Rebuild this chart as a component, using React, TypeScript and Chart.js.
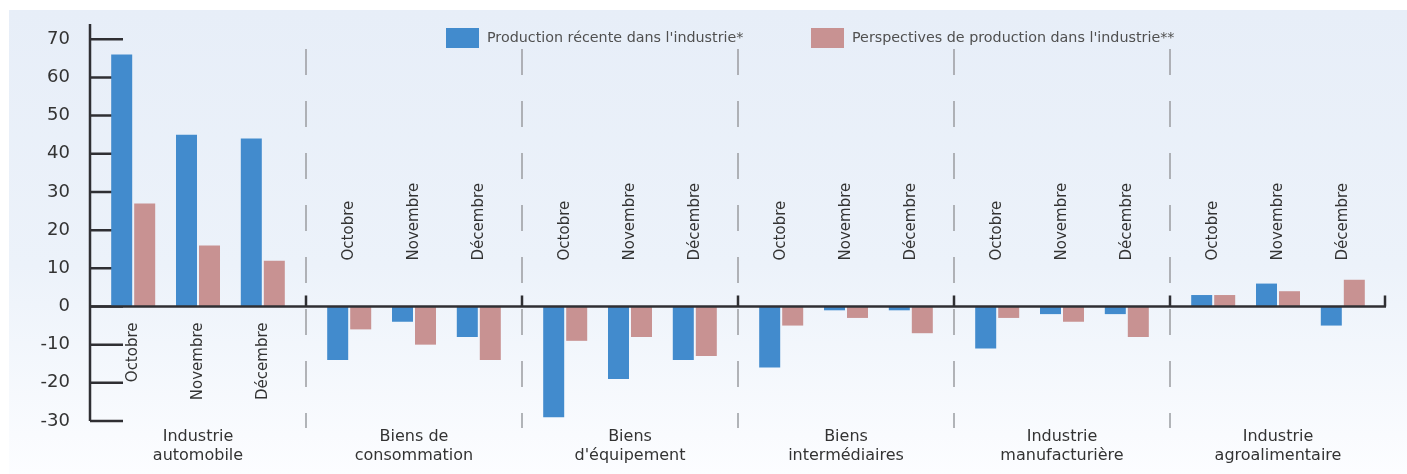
import { useEffect, useRef } from 'react';
import { Chart, registerables } from 'chart.js';

Chart.register(...registerables);

const FONT = '"DejaVu Sans", "Open Sans", sans-serif';

const months = ['Octobre', 'Novembre', 'Décembre'];
const sectors = [
  ['Industrie', 'automobile'],
  ['Biens de', 'consommation'],
  ['Biens', "d'équipement"],
  ['Biens', 'intermédiaires'],
  ['Industrie', 'manufacturière'],
  ['Industrie', 'agroalimentaire'],
];
const seriesNames = ["Production récente dans l'industrie*", "Perspectives de production dans l'industrie**"];
const recent = [66, 45, 44, -14, -4, -8, -29, -19, -14, -16, -1, -1, -11, -2, -2, 3, 6, -5];
const outlook = [27, 16, 12, -6, -10, -14, -9, -8, -13, -5, -3, -7, -3, -4, -8, 3, 4, 7];
const yTicks = [-30, -20, -10, 0, 10, 20, 30, 40, 50, 60, 70];
const yMin = -30;
const yMax = 74;

// layout: where each month group sits inside its sector (fraction of the sector width)
const groupOffsets = [0.2, 0.5, 0.8];

const BLUE = '#428bcd';
const PINK = '#c89292';
const AXIS = '#2f2f33';
const TEXT = '#333333';

const labels = sectors.flatMap(() => months);
const xPos = (i: number) => Math.floor(i / 3) + groupOffsets[i % 3];

const deco = {
  id: 'deco',
  beforeDraw(chart: any) {
    const { ctx, width, height } = chart;
    ctx.save();
    ctx.fillStyle = '#ffffff';
    ctx.fillRect(0, 0, width, height);
    const g = ctx.createLinearGradient(0, 10, 0, height);
    g.addColorStop(0, '#e7eef8');
    g.addColorStop(0.55, '#ecf2fa');
    g.addColorStop(1, '#fcfdff');
    ctx.fillStyle = g;
    ctx.fillRect(9, 10, width - 9, height - 10);
    ctx.restore();
  },
  beforeDatasetsDraw(chart: any) {
    const { ctx, chartArea } = chart;
    const xs = chart.scales.x;
    const ys = chart.scales.y;
    ctx.save();
    ctx.strokeStyle = '#9a9ca0';
    ctx.lineWidth = 1.5;
    ctx.setLineDash([26, 26]);
    for (let k = 1; k < sectors.length; k++) {
      const x = Math.round(xs.getPixelForValue(k));
      ctx.beginPath();
      ctx.moveTo(x, chartArea.top + 25);
      ctx.lineTo(x, chartArea.bottom + 7);
      ctx.stroke();
    }
    ctx.setLineDash([]);
    ctx.strokeStyle = AXIS;
    ctx.lineWidth = 2.5;
    ys.ticks.forEach((t: any) => {
      const y = ys.getPixelForValue(t.value);
      ctx.beginPath();
      ctx.moveTo(chartArea.left, y);
      ctx.lineTo(chartArea.left + 33, y);
      ctx.stroke();
    });
    ctx.restore();
  },
  afterDatasetsDraw(chart: any) {
    const { ctx, chartArea } = chart;
    const xs = chart.scales.x;
    const ys = chart.scales.y;
    const y0 = ys.getPixelForValue(0);
    ctx.save();
    ctx.strokeStyle = AXIS;
    ctx.lineWidth = 2.5;
    ctx.setLineDash([]);
    ctx.beginPath();
    ctx.moveTo(chartArea.left, chartArea.top);
    ctx.lineTo(chartArea.left, chartArea.bottom);
    ctx.stroke();
    ctx.beginPath();
    ctx.moveTo(chartArea.left, y0);
    ctx.lineTo(chartArea.right, y0);
    ctx.stroke();
    for (let k = 1; k <= sectors.length; k++) {
      const x = k < sectors.length ? Math.round(xs.getPixelForValue(k)) : chartArea.right - 1;
      ctx.beginPath();
      ctx.moveTo(x, y0);
      ctx.lineTo(x, y0 - 11);
      ctx.stroke();
    }
    // month labels
    ctx.fillStyle = TEXT;
    ctx.font = `15px ${FONT}`;
    ctx.textBaseline = 'middle';
    labels.forEach((m, i) => {
      const x = xs.getPixelForValue(xPos(i));
      const below = Math.max(recent[i], outlook[i]) > 12;
      ctx.save();
      ctx.translate(x, below ? y0 + 16 : y0 - 46);
      ctx.rotate(-Math.PI / 2);
      ctx.textAlign = below ? 'right' : 'left';
      ctx.fillText(m, 0, 0);
      ctx.restore();
    });
    // sector labels
    ctx.font = `16px ${FONT}`;
    ctx.textAlign = 'center';
    sectors.forEach((lines, k) => {
      const cx = xs.getPixelForValue(k + 0.5);
      lines.forEach((ln, j) => ctx.fillText(ln, cx, chartArea.bottom + 16 + j * 19));
    });
    // legend
    const colors = [BLUE, PINK];
    const lx = [446, 811];
    ctx.font = `14.3px ${FONT}`;
    ctx.textAlign = 'left';
    seriesNames.forEach((name, i) => {
      ctx.fillStyle = colors[i];
      ctx.fillRect(lx[i], 28, 33, 20);
      ctx.fillStyle = '#505050';
      ctx.fillText(name, lx[i] + 41, 38);
    });
    ctx.restore();
  },
};

export default function App() {
  const ref = useRef<HTMLCanvasElement>(null);
  useEffect(() => {
    const chart = new Chart(ref.current as HTMLCanvasElement, {
      type: 'bar',
      data: {
        labels,
        datasets: [
          {
            label: seriesNames[0],
            data: recent.map((v, i) => ({ x: xPos(i), y: v })),
            backgroundColor: BLUE,
            borderWidth: 0,
            categoryPercentage: 0.71,
            barPercentage: 0.913,
          },
          {
            label: seriesNames[1],
            data: outlook.map((v, i) => ({ x: xPos(i), y: v })),
            backgroundColor: PINK,
            borderWidth: 0,
            categoryPercentage: 0.71,
            barPercentage: 0.913,
          },
        ],
      },
      options: {
        responsive: false,
        devicePixelRatio: 1,
        animation: false,
        layout: { padding: { left: 0, right: 21, top: 24, bottom: 53 } },
        plugins: { legend: { display: false }, tooltip: { enabled: false } },
        scales: {
          x: { type: 'linear', display: false, offset: false, min: 0, max: sectors.length, ticks: { stepSize: 1 } },
          y: {
            min: yMin,
            max: yMax,
            afterBuildTicks: (s: any) => { s.ticks = yTicks.map((v) => ({ value: v })); },
            afterFit: (s: any) => { s.width = 90; s.paddingTop = 0; s.paddingBottom = 0; },
            grid: { display: false, drawTicks: false },
            border: { display: false },
            ticks: { padding: 20, color: TEXT, font: { size: 18, family: FONT } },
          },
        },
      } as any,
      plugins: [deco],
    });
    return () => chart.destroy();
  }, []);
  return (
    <div style={{ position: 'fixed', left: 0, top: 0, width: 1407, height: 474 }}>
      <canvas ref={ref} width={1407} height={474} style={{ display: 'block' }} />
    </div>
  );
}
